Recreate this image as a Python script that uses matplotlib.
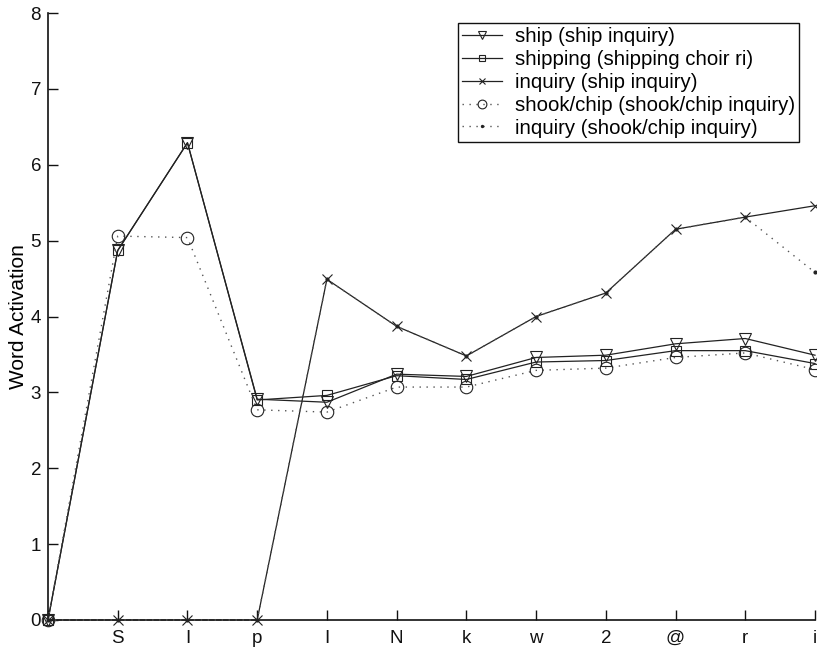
import matplotlib
matplotlib.use("Agg")
import matplotlib.pyplot as plt

plt.rcParams['font.family'] = ['Liberation Sans', 'DejaVu Sans']

phonemes = ['', 'S', 'I', 'p', 'I', 'N', 'k', 'w', '2', '@', 'r', 'i']
positions = list(range(len(phonemes)))

ship = [0, 4.87, 6.29, 2.91, 2.87, 3.24, 3.21, 3.46, 3.49, 3.64, 3.71, 3.49]
shipping = [0, 4.87, 6.29, 2.90, 2.96, 3.22, 3.17, 3.40, 3.42, 3.55, 3.55, 3.38]
inquiry_ship = [0, 0, 0, 0, 4.49, 3.87, 3.48, 4.00, 4.31, 5.15, 5.31, 5.46]
shook_chip = [0, 5.06, 5.04, 2.77, 2.74, 3.07, 3.07, 3.29, 3.32, 3.46, 3.52, 3.30]
inquiry_shook = [0, 0, 0, 0, 4.49, 3.87, 3.48, 4.00, 4.31, 5.15, 5.31, 4.58]

labels = ['ship (ship inquiry)', 'shipping (shipping choir ri)',
          'inquiry (ship inquiry)', 'shook/chip (shook/chip inquiry)',
          'inquiry (shook/chip inquiry)']
yticks = [0, 1, 2, 3, 4, 5, 6, 7, 8]

fig = plt.figure(figsize=(8.17, 6.48), dpi=100)
ax = fig.add_axes([48 / 817, 28 / 648, 767 / 817, 607 / 648])

lc = '#222222'
dc = '#555555'
dots = (0, (1, 4))
ax.plot(positions, ship, color=lc, lw=0.9, marker='v', ms=8.5, mfc='none', mec=lc, mew=0.8,
        label=labels[0], clip_on=False, zorder=3)
ax.plot(positions, shipping, color=lc, lw=0.9, marker='s', ms=7, mfc='none', mec=lc, mew=0.8,
        label=labels[1], clip_on=False, zorder=3)
ax.plot(positions, inquiry_ship, color=lc, lw=0.9, marker='x', ms=7, mec=lc, mew=0.8,
        label=labels[2], clip_on=False, zorder=3)
ax.plot(positions, shook_chip, color=dc, lw=1.0, ls=dots, marker='o', ms=9, mfc='none', mec=lc, mew=0.8,
        label=labels[3], clip_on=False, zorder=3)
ax.plot(positions, inquiry_shook, color=dc, lw=1.0, ls=dots, marker='.', ms=4, mfc=lc, mec=lc,
        label=labels[4], clip_on=False, zorder=3)

ax.set_xlim(0, 11)
ax.set_ylim(0, 8)
ax.set_xticks(positions)
ax.set_xticklabels(phonemes)
ax.set_yticks(yticks)
ax.set_yticklabels([str(v) for v in yticks])
ax.tick_params(direction='in', length=7, width=1, labelsize=13.5, colors='#111111', pad=5)
ax.tick_params(axis='x', pad=7)
for s in ['top', 'right']:
    ax.spines[s].set_visible(False)
for s in ['left', 'bottom']:
    ax.spines[s].set_linewidth(1.2)
    ax.spines[s].set_color('#111111')
ax.set_ylabel('Word Activation', fontsize=15, labelpad=2)

leg = ax.legend(loc='upper left', bbox_to_anchor=(0.534, 0.9835), fontsize=14.7,
                frameon=True, fancybox=False, edgecolor='#111111', framealpha=1,
                handlelength=2.0, handletextpad=0.6, labelspacing=0.19,
                borderpad=0.2, borderaxespad=0, markerscale=0.7)
leg.get_frame().set_linewidth(1.0)

fig.savefig('out.png', dpi=100)
